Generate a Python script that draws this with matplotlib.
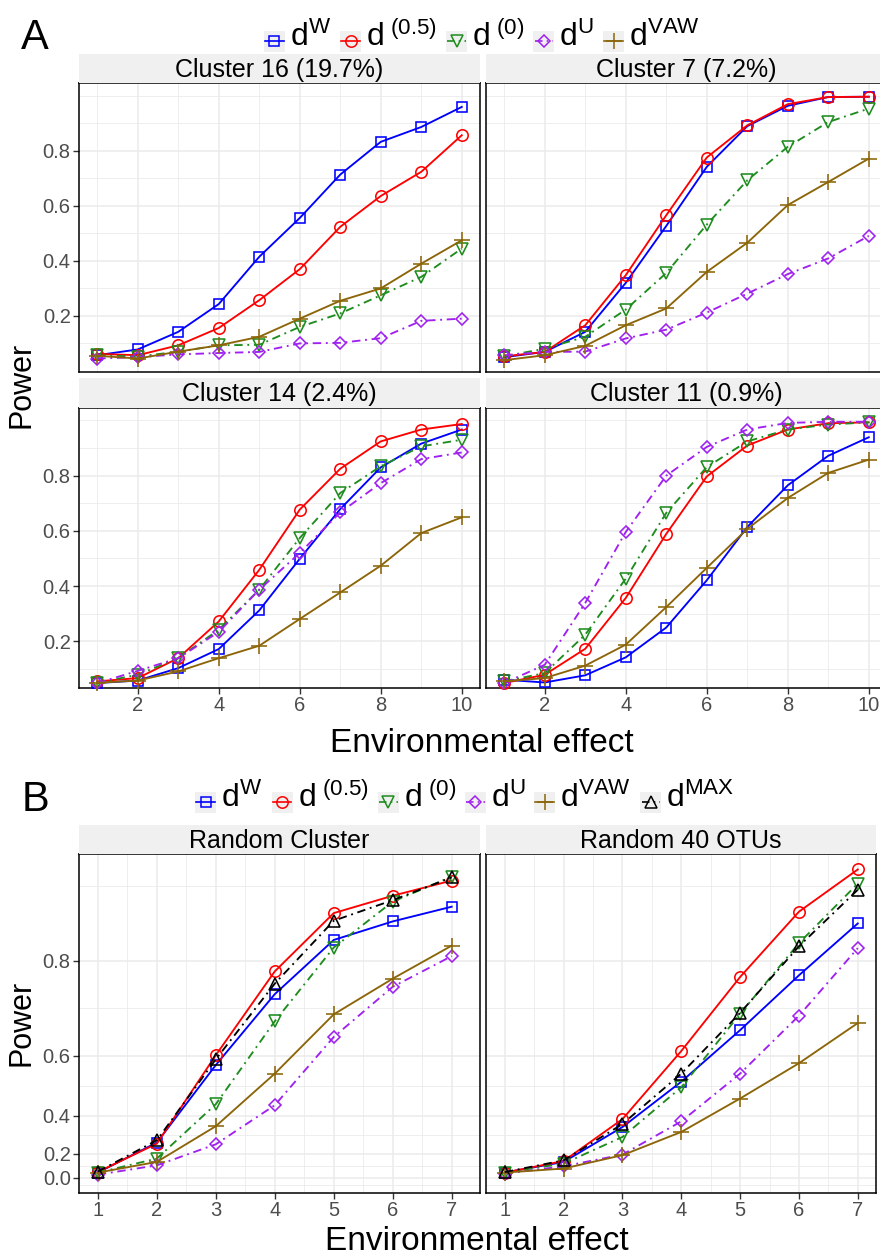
import numpy as np
import matplotlib
matplotlib.use("Agg")
import matplotlib.pyplot as plt
from matplotlib.lines import Line2D

plt.rcParams['font.family'] = ['Liberation Sans', 'DejaVu Sans']
plt.rcParams['mathtext.fontset'] = 'custom'
plt.rcParams['mathtext.rm'] = 'Liberation Sans'
plt.rcParams['mathtext.it'] = 'Liberation Sans:italic'

# ---- data ----
x_a = [1, 2, 3, 4, 5, 6, 7, 8, 9, 10]
x_b = [1, 2, 3, 4, 5, 6, 7]

titles_a = ["Cluster 16 (19.7%)", "Cluster 7 (7.2%)", "Cluster 14 (2.4%)", "Cluster 11 (0.9%)"]
titles_b = ["Random Cluster", "Random 40 OTUs"]

# panel A: power per method, one list per cluster
c16_w = [0.057, 0.078, 0.142, 0.243, 0.415, 0.556, 0.714, 0.833, 0.887, 0.960]
c16_h = [0.062, 0.057, 0.093, 0.156, 0.257, 0.370, 0.524, 0.636, 0.724, 0.857]
c16_z = [0.057, 0.052, 0.070, 0.093, 0.095, 0.160, 0.209, 0.275, 0.342, 0.445]
c16_u = [0.045, 0.050, 0.060, 0.065, 0.069, 0.100, 0.102, 0.119, 0.182, 0.190]
c16_v = [0.055, 0.045, 0.070, 0.093, 0.124, 0.190, 0.255, 0.300, 0.390, 0.475]

c7_w = [0.050, 0.069, 0.142, 0.320, 0.527, 0.742, 0.890, 0.964, 0.996, 0.997]
c7_h = [0.053, 0.069, 0.166, 0.348, 0.566, 0.776, 0.893, 0.970, 0.996, 0.997]
c7_z = [0.053, 0.081, 0.124, 0.223, 0.356, 0.532, 0.693, 0.815, 0.905, 0.954]
c7_u = [0.057, 0.069, 0.070, 0.118, 0.150, 0.212, 0.281, 0.352, 0.409, 0.491]
c7_v = [0.039, 0.057, 0.091, 0.166, 0.227, 0.360, 0.466, 0.603, 0.687, 0.772]

c14_w = [0.049, 0.058, 0.103, 0.172, 0.312, 0.499, 0.679, 0.830, 0.916, 0.967]
c14_h = [0.055, 0.067, 0.139, 0.272, 0.459, 0.677, 0.825, 0.924, 0.967, 0.987]
c14_z = [0.050, 0.079, 0.139, 0.242, 0.387, 0.574, 0.737, 0.834, 0.906, 0.930]
c14_u = [0.049, 0.093, 0.139, 0.234, 0.387, 0.520, 0.667, 0.773, 0.860, 0.884]
c14_v = [0.050, 0.058, 0.091, 0.139, 0.184, 0.281, 0.377, 0.474, 0.592, 0.649]

c11_w = [0.061, 0.051, 0.077, 0.142, 0.250, 0.421, 0.614, 0.765, 0.872, 0.939]
c11_h = [0.049, 0.079, 0.173, 0.357, 0.589, 0.797, 0.909, 0.967, 0.990, 0.993]
c11_z = [0.055, 0.085, 0.224, 0.427, 0.665, 0.831, 0.924, 0.967, 0.985, 0.993]
c11_u = [0.049, 0.115, 0.339, 0.596, 0.800, 0.904, 0.967, 0.991, 0.995, 0.995]
c11_v = [0.055, 0.067, 0.112, 0.188, 0.324, 0.466, 0.607, 0.719, 0.810, 0.858]

# panel B
rc_w = [0.050, 0.269, 0.575, 0.740, 0.834, 0.862, 0.883]
rc_h = [0.056, 0.263, 0.602, 0.782, 0.874, 0.898, 0.918]
rc_z = [0.050, 0.166, 0.447, 0.684, 0.822, 0.890, 0.923]
rc_u = [0.030, 0.114, 0.259, 0.443, 0.648, 0.754, 0.808]
rc_v = [0.050, 0.141, 0.354, 0.550, 0.699, 0.769, 0.825]
rc_m = [0.060, 0.282, 0.591, 0.760, 0.863, 0.892, 0.922]

ro_w = [0.050, 0.141, 0.350, 0.525, 0.664, 0.775, 0.859]
ro_h = [0.050, 0.148, 0.386, 0.613, 0.772, 0.876, 0.932]
ro_z = [0.050, 0.128, 0.300, 0.507, 0.700, 0.829, 0.914]
ro_u = [0.040, 0.106, 0.194, 0.376, 0.550, 0.696, 0.821]
ro_v = [0.050, 0.087, 0.190, 0.326, 0.468, 0.580, 0.680]
ro_m = [0.055, 0.153, 0.364, 0.550, 0.702, 0.824, 0.906]

labels = [r"$\mathregular{d^{W}}$", r"$\mathregular{d^{\ (0.5)}}$", r"$\mathregular{d^{\ (0)}}$",
          r"$\mathregular{d^{U}}$", r"$\mathregular{d^{VAW}}$", r"$\mathregular{d^{MAX}}$"]

# ---- styles ----
DD = (0, (4.5, 2.5, 1.0, 2.5))
styles = [
    dict(color="#0000FF", ls="-", marker="s", ms=7.5),
    dict(color="#FF0000", ls="-", marker="o", ms=8.2),
    dict(color="#1E8C1E", ls=DD, marker="v", ms=9),
    dict(color="#A020F0", ls=DD, marker="D", ms=6.6),
    dict(color="#8B6508", ls="-", marker="+", ms=12),
    dict(color="#000000", ls=DD, marker="^", ms=9),
]

W, H = 880, 1256
fig = plt.figure(figsize=(W / 100, H / 100), dpi=100)
fig.patch.set_facecolor("white")


def px_axes(x0, y0, x1, y1, **kw):
    return fig.add_axes([x0 / W, 1 - y1 / H, (x1 - x0) / W, (y1 - y0) / H], **kw)


def strip(x0, y0, x1, y1, text):
    a = px_axes(x0, y0, x1, y1)
    a.set_facecolor("#F0F0F0")
    a.set_xticks([])
    a.set_yticks([])
    for s in a.spines.values():
        s.set_visible(False)
    a.text(0.5, 0.45, text, ha="center", va="center", fontsize=18, transform=a.transAxes)


def style_panel(ax):
    for s in ax.spines.values():
        s.set_color("black")
        s.set_linewidth(1.1)
    ax.tick_params(axis="both", which="major", direction="out", length=4, width=1,
                   color="#333333", labelcolor="#4D4D4D", labelsize=14.5, pad=2)
    ax.tick_params(axis="both", which="minor", length=0)
    ax.grid(True, which="major", color="#EBEBEB", lw=1.1, zorder=0)
    ax.grid(True, which="minor", color="#EBEBEB", lw=0.6, zorder=0)
    ax.set_axisbelow(True)


def draw_series(ax, x, ys, n):
    for i in range(n):
        st = styles[i]
        ax.plot(x, ys[i], color=st["color"], ls=st["ls"], lw=1.35, marker=st["marker"],
                ms=st["ms"], mfc="none", mec=st["color"], mew=1.15, zorder=3, clip_on=False)


def draw_legend(cx, cy, n):
    renderer = fig.canvas.get_renderer()
    key, gap, sep = 21, 5, 9
    texts = []
    widths = []
    for i in range(n):
        t = fig.text(0, 0, labels[i], fontsize=23, ha="left", va="center")
        widths.append(t.get_window_extent(renderer).width)
        texts.append(t)
    total = sum(key + gap + w for w in widths) + sep * (n - 1)
    x = cx - total / 2
    for i in range(n):
        st = styles[i]
        ka = px_axes(x, cy - key / 2 + 4, x + key, cy + key / 2 + 4)
        ka.set_facecolor("#F0F0F0")
        ka.set_xticks([])
        ka.set_yticks([])
        for s in ka.spines.values():
            s.set_visible(False)
        ka.set_xlim(0, 1)
        ka.set_ylim(0, 1)
        ka.add_line(Line2D([0.05, 0.95], [0.5, 0.5], color=st["color"], ls=st["ls"], lw=1.2))
        ka.plot([0.5], [0.5], marker=st["marker"], ms=st["ms"], mfc="none",
                mec=st["color"], mew=1.1, clip_on=False)
        texts[i].set_position(((x + key + gap) / W, 1 - cy / H))
        x += key + gap + widths[i] + sep


# ---- Panel A ----
series_a = [
    [c16_w, c16_h, c16_z, c16_u, c16_v],
    [c7_w, c7_h, c7_z, c7_u, c7_v],
    [c14_w, c14_h, c14_z, c14_u, c14_v],
    [c11_w, c11_h, c11_z, c11_u, c11_v],
]
boxes_a = [(79, 83, 480, 372), (486, 83, 887, 372), (79, 408, 480, 688), (486, 408, 887, 688)]
strips_a = [(79, 54, 480, 83), (486, 54, 887, 83), (79, 378, 480, 408), (486, 378, 887, 408)]
ylims_a = [(-0.004, 1.047), (-0.004, 1.047), (0.031, 1.045), (0.031, 1.045)]

for k in range(4):
    ax = px_axes(*boxes_a[k])
    draw_series(ax, x_a, series_a[k], 5)
    ax.set_xlim(0.55, 10.45)
    ax.set_ylim(*ylims_a[k])
    ax.set_xticks([2, 4, 6, 8, 10])
    ax.set_xticks([1, 3, 5, 7, 9], minor=True)
    ax.set_yticks([0.2, 0.4, 0.6, 0.8])
    ax.set_yticks([0.1, 0.3, 0.5, 0.7, 0.9, 1.0], minor=True)
    style_panel(ax)
    if k % 2 == 1:
        ax.tick_params(axis="y", which="both", left=False, labelleft=False)
    if k < 2:
        ax.tick_params(axis="x", which="both", bottom=False, labelbottom=False)
    strip(*strips_a[k], titles_a[k])

draw_legend(482, 37, 5)
fig.text(35 / W, 1 - 38 / H, "A", fontsize=30, ha="center", va="center")
fig.text(22 / W, 1 - 385 / H, "Power", fontsize=22, rotation=90, ha="center", va="center")
fig.text(482 / W, 1 - 744 / H, "Environmental effect", fontsize=24, ha="center", va="center")

# ---- Panel B ----
series_b = [
    [rc_w, rc_h, rc_z, rc_u, rc_v, rc_m],
    [ro_w, ro_h, ro_z, ro_u, ro_v, ro_m],
]
boxes_b = [(79, 854, 480, 1193), (486, 854, 876, 1193)]
strips_b = [(79, 825, 480, 854), (486, 825, 876, 854)]
xlims_b = [(0.68, 7.48), (0.68, 7.31)]


def fwd(y):
    return np.power(10.0, y)


def inv(t):
    with np.errstate(divide="ignore", invalid="ignore"):
        return np.log10(t)


for k in range(2):
    ax = px_axes(*boxes_b[k])
    ax.set_yscale("function", functions=(fwd, inv))
    draw_series(ax, x_b, series_b[k], 6)
    ax.set_xlim(*xlims_b[k])
    ax.set_ylim(np.log10(0.622), np.log10(8.93))
    ax.set_xticks([1, 2, 3, 4, 5, 6, 7])
    ax.set_xticks([1.5, 2.5, 3.5, 4.5, 5.5, 6.5], minor=True)
    ax.set_yticks([0.0, 0.2, 0.4, 0.6, 0.8])
    ax.set_yticklabels(["0.0", "0.2", "0.4", "0.6", "0.8"])
    mids = [np.log10((fwd(a) + fwd(a + 0.2)) / 2) for a in [-0.2, 0.0, 0.2, 0.4, 0.6, 0.8]]
    ax.set_yticks(mids, minor=True)
    style_panel(ax)
    if k == 1:
        ax.tick_params(axis="y", which="both", left=False, labelleft=False)
    strip(*strips_b[k], titles_b[k])

draw_legend(465, 798, 6)
fig.text(35 / W, 1 - 800 / H, "B", fontsize=30, ha="center", va="center")
fig.text(22 / W, 1 - 1023 / H, "Power", fontsize=22, rotation=90, ha="center", va="center")
fig.text(477 / W, 1 - 1241 / H, "Environmental effect", fontsize=24, ha="center", va="center")

fig.savefig("out.png", dpi=100)
